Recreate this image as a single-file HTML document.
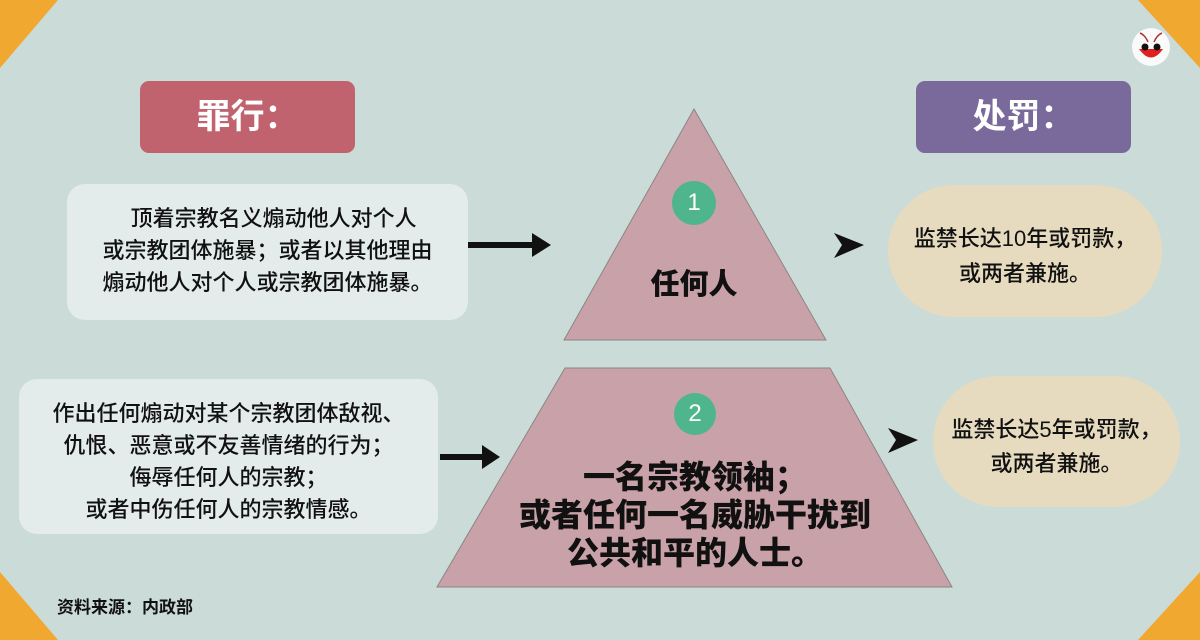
<!DOCTYPE html>
<html><head><meta charset="utf-8"><style>
html,body{margin:0;padding:0}
body{width:1200px;height:640px;position:relative;overflow:hidden;background:#cbdbd8;font-family:"Liberation Sans","Noto Sans CJK SC",sans-serif}
.a{position:absolute}
.t{position:absolute;text-align:center;white-space:nowrap}
</style></head><body>
<svg class="a" style="left:0;top:0" width="1200" height="640">
<polygon points="0,0 58,0 0,68" fill="#f0a830"/>
<polygon points="1138,0 1200,0 1200,68" fill="#f0a830"/>
<polygon points="0,572 0,640 58,640" fill="#f0a830"/>
<polygon points="1200,572 1200,640 1138,640" fill="#f0a830"/>
<circle cx="1151" cy="47" r="19" fill="#fafafa"/>
<path d="M1139,49 Q1151,66 1163,49 Z" fill="#e02020"/>
<circle cx="1145" cy="47" r="3.5" fill="#111"/><circle cx="1157" cy="47" r="3.5" fill="#111"/>
<path d="M1148,42 Q1145,35 1140,33 M1154,42 Q1157,35 1162,33" stroke="#a33" stroke-width="1.5" fill="none"/>
<rect x="140" y="81" width="215" height="72" rx="9" fill="#c0636f"/>
<rect x="916" y="81" width="215" height="72" rx="9" fill="#7a6a9c"/>
<rect x="67" y="184" width="401" height="136" rx="18" fill="#e3eceb"/>
<rect x="19" y="379" width="419" height="155" rx="18" fill="#e3eceb"/>
<polygon points="694,109 564,340 826,340" fill="#c9a1a8" stroke="#8b8585" stroke-width="1"/>
<polygon points="565,368 830,368 952,587 437,587" fill="#c9a1a8" stroke="#8b8585" stroke-width="1"/>
<circle cx="694" cy="203" r="22" fill="#4fb58c"/>
<circle cx="695" cy="414" r="21" fill="#4fb58c"/>
<rect x="888" y="185" width="274" height="132" rx="66" fill="#e6dbbf"/>
<rect x="933" y="376" width="247" height="131" rx="65" fill="#e6dbbf"/>
<line x1="468" y1="245" x2="535" y2="245" stroke="#111" stroke-width="6"/>
<polygon points="532,233 551,245 532,257" fill="#111"/>
<line x1="440" y1="457" x2="485" y2="457" stroke="#111" stroke-width="6"/>
<polygon points="482,445 500,457 482,469" fill="#111"/>
<polygon points="834,233 864,245 834,258 842,245" fill="#111"/>
<polygon points="888,428 918,440 888,453 896,440" fill="#111"/>
</svg>
<div class="t" style="left:140px;width:215px;top:97px;font-size:34px;font-weight:bold;color:#fff;line-height:40px">罪行：</div>
<div class="t" style="left:916px;width:215px;top:97px;font-size:34px;font-weight:bold;color:#fff;line-height:40px">处罚：</div>
<div class="t" style="left:67px;width:401px;top:203px;font-size:22px;font-weight:500;line-height:32px;color:#111">&nbsp;&nbsp;顶着宗教名义煽动他人对个人<br>或宗教团体施暴；或者以其他理由<br>煽动他人对个人或宗教团体施暴。</div>
<div class="t" style="left:19px;width:419px;top:398px;font-size:22px;font-weight:500;line-height:32px;color:#111">作出任何煽动对某个宗教团体敌视、<br>仇恨、恶意或不友善情绪的行为；<br>侮辱任何人的宗教；<br>或者中伤任何人的宗教情感。</div>
<div class="t" style="left:674px;width:40px;top:190px;font-size:24px;color:#fff;line-height:26px">1</div>
<div class="t" style="left:675px;width:40px;top:401px;font-size:24px;color:#fff;line-height:26px">2</div>
<div class="t" style="left:594px;width:200px;top:268px;font-size:29px;font-weight:900;color:#111;line-height:34px">任何人</div>
<div class="t" style="left:495px;width:400px;top:458px;font-size:32px;font-weight:900;color:#111;line-height:38px">一名宗教领袖；<br>或者任何一名威胁干扰到<br>公共和平的人士。</div>
<div class="t" style="left:888px;width:274px;top:221px;font-size:22px;font-weight:500;line-height:35px;color:#111">监禁长达10年或罚款，<br>或两者兼施。</div>
<div class="t" style="left:933px;width:247px;top:413px;font-size:22px;font-weight:500;line-height:34px;color:#111">监禁长达5年或罚款，<br>或两者兼施。</div>
<div class="t" style="left:57px;top:597px;font-size:17px;font-weight:bold;color:#111;line-height:22px">资料来源：内政部</div>
</body></html>
